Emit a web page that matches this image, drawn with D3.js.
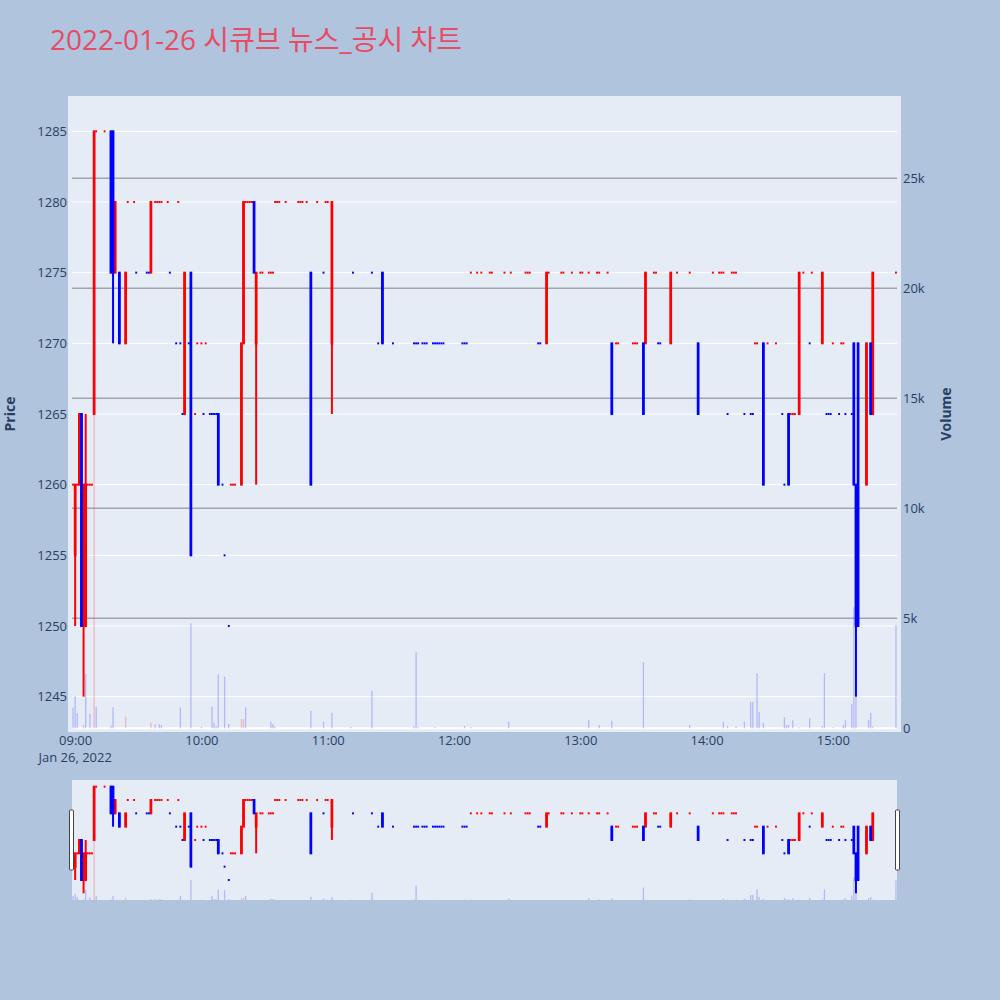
<!DOCTYPE html>
<html><head><meta charset="utf-8">
<script src="https://cdn.jsdelivr.net/npm/d3@7/dist/d3.min.js"></script>
<style>
html,body{margin:0;padding:0;background:#b0c4de;}
svg{display:block;font-family:"Open Sans","Noto Sans CJK KR",sans-serif;}
</style></head>
<body><div id="chart"></div>
<script>
// ---------------- data ----------------
const titleText = "2022-01-26 시큐브 뉴스_공시 차트";
const tradeDate = "2022-01-26";
const priceTicks = [1245, 1250, 1255, 1260, 1265, 1270, 1275, 1280, 1285];
const volumeTicks = [0, 5000, 10000, 15000, 20000, 25000];
const volumeTickLabels = ["0", "5k", "10k", "15k", "20k", "25k"];
const timeTicks = ["09:00", "10:00", "11:00", "12:00", "13:00", "14:00", "15:00"];

// candles with a real body or wick
const barTimes = ["09:00","09:02","09:03","09:04","09:05","09:09","09:17","09:18","09:19","09:21","09:24","09:36","09:52","09:55",
  "10:08","10:19","10:20","10:25","10:26","10:52","11:02","11:26","12:44","13:15","13:30","13:31","13:43","13:56",
  "14:27","14:39","14:44","14:55","15:10","15:11","15:12","15:16","15:18","15:19"];
const barOpen  = [1255,1260,1265,1250,1250,1265,1285,1285,1275,1275,1270,1275,1265,1275,
  1265,1260,1270,1280,1270,1275,1270,1275,1270,1270,1270,1270,1270,1270,
  1270,1265,1265,1270,1270,1260,1270,1260,1270,1265];
const barHigh  = [1260,1265,1265,1260,1265,1285,1285,1285,1280,1275,1275,1280,1275,1275,
  1265,1270,1280,1280,1275,1275,1280,1275,1275,1270,1270,1275,1275,1270,
  1270,1265,1275,1275,1270,1260,1270,1270,1270,1275];
const barLow   = [1250,1260,1250,1245,1250,1265,1275,1270,1275,1270,1270,1275,1265,1255,
  1260,1260,1270,1275,1260,1260,1265,1270,1270,1265,1265,1270,1270,1265,
  1260,1260,1265,1270,1260,1245,1250,1260,1265,1265];
const barClose = [1260,1265,1250,1260,1260,1285,1275,1275,1280,1270,1275,1280,1275,1255,
  1260,1270,1280,1275,1275,1260,1280,1270,1275,1265,1265,1275,1275,1265,
  1260,1260,1275,1275,1260,1250,1250,1270,1265,1275];

// single-price minutes (open = high = low = close)
const dojiTimes = ["08:59","09:01","09:06","09:07","09:08","09:10","09:14","09:25","09:28","09:29","09:34","09:35",
  "09:38","09:39","09:40","09:41","09:44","09:45","09:48","09:49","09:50","09:51","09:54","09:57","09:58",
  "10:00","10:01","10:02","10:04","10:05","10:06","10:07","10:10","10:11","10:13","10:14","10:15","10:16",
  "10:21","10:22","10:23","10:24","10:28","10:29","10:32","10:33","10:34","10:35","10:36","10:37","10:40",
  "10:46","10:47","10:48","10:50","10:55","10:58","10:59","11:00","11:12","11:21","11:24","11:31",
  "11:41","11:42","11:43","11:45","11:46","11:47","11:50","11:51","11:52","11:53","11:54","11:55",
  "12:04","12:05","12:06","12:08","12:11","12:13","12:17","12:18","12:24","12:27","12:34","12:35","12:36",
  "12:40","12:41","12:45","12:51","12:52","12:56","13:00","13:01","13:04","13:08","13:09","13:13",
  "13:17","13:18","13:25","13:26","13:27","13:35","13:36","13:37","13:38","13:46","13:52",
  "14:03","14:06","14:07","14:08","14:10","14:12","14:13","14:14","14:18","14:21","14:22","14:23","14:24",
  "14:29","14:33","14:36","14:37","14:40","14:41","14:42","14:46","14:49","14:50","14:57","14:58","14:59",
  "15:00","15:03","15:04","15:05","15:06","15:09","15:30"];
const dojiPrice = [1260,1260,1260,1260,1260,1285,1285,1280,1280,1275,1275,1275,
  1280,1280,1280,1280,1280,1275,1270,1280,1270,1265,1270,1265,1270,
  1270,1265,1270,1265,1265,1265,1265,1260,1255,1250,1260,1260,1260,
  1280,1280,1280,1280,1275,1275,1275,1275,1275,1280,1280,1280,1280,
  1280,1280,1280,1280,1280,1275,1280,1280,1275,1275,1270,1270,
  1270,1270,1270,1270,1270,1270,1270,1270,1270,1270,1270,1270,
  1270,1270,1270,1275,1275,1275,1275,1275,1275,1275,1275,1275,1275,
  1270,1270,1275,1275,1275,1275,1275,1275,1275,1275,1275,1275,
  1270,1270,1270,1270,1270,1275,1275,1270,1270,1275,1275,
  1275,1275,1275,1275,1265,1275,1275,1275,1265,1265,1265,1270,1270,
  1270,1270,1265,1260,1265,1265,1265,1275,1270,1275,1265,1265,1265,
  1270,1265,1270,1270,1265,1265,1275];

// volume per minute, and whether the bar is drawn in the "up" colour
const volTimes = ["08:59","09:00","09:01","09:04","09:05","09:07","09:09","09:10","09:17","09:18","09:24","09:36",
  "09:38","09:40","09:41","09:50","09:55","10:00","10:05","10:06","10:07","10:08","10:11","10:13","10:19","10:20",
  "10:21","10:33","10:34","10:35","10:52","10:58","11:02","11:11","11:21","11:41","11:42","11:43","11:51",
  "12:05","12:08","12:26","13:04","13:09","13:15","13:30","13:52","14:08","14:10","14:14","14:18","14:21",
  "14:22","14:24","14:25","14:27","14:37","14:38","14:39","14:41","14:44","14:49","14:55","14:56","15:00",
  "15:05","15:06","15:09","15:10","15:11","15:17","15:18","15:19","15:30"];
const volValues = [940,1470,680,150,2470,650,14300,980,120,950,530,270,
  180,180,150,950,4770,80,980,250,100,2450,2350,200,420,420,
  950,300,200,100,800,300,710,80,1700,100,3450,50,50,
  100,50,300,380,150,350,3000,150,300,100,80,300,1200,
  1200,2500,750,250,500,150,150,380,50,450,100,2500,50,
  150,380,1100,5500,1500,380,700,100,4700];
const volUp = [0,0,0,1,0,0,1,0,0,0,1,1,
  0,0,0,0,0,0,0,0,0,0,0,0,1,1,
  0,0,0,1,0,0,0,0,0,0,0,0,0,
  0,0,0,0,0,0,0,0,0,0,0,0,0,
  0,0,0,0,0,0,0,0,1,0,0,0,1,
  0,0,0,0,0,0,0,1,0];

// ---------------- build ----------------
const parseT = d3.timeParse("%Y-%m-%d %H:%M");
const T = s => parseT(tradeDate + " " + s);

let candles = barTimes.map((t, i) => ({t: T(t), o: barOpen[i], h: barHigh[i], l: barLow[i], c: barClose[i]}))
  .concat(dojiTimes.map((t, i) => ({t: T(t), o: dojiPrice[i], h: dojiPrice[i], l: dojiPrice[i], c: dojiPrice[i]})));
candles.sort((a, b) => a.t - b.t);
// direction as in plotly: equal open/close compares to previous close, else keeps previous direction
let inc = true, cPrev = null;
candles.forEach(d => {
  if (d.c === d.o) { if (cPrev !== null && d.c !== cPrev) inc = d.c > cPrev; }
  else inc = d.c > d.o;
  d.up = inc; cPrev = d.c;
});
const vols = volTimes.map((t, i) => ({t: T(t), v: volValues[i], up: volUp[i] === 1}));

const W = 1000, H = 1000;
const svg = d3.select("#chart").append("svg").attr("width", W).attr("height", H);
svg.append("rect").attr("width", W).attr("height", H).attr("fill", "#b0c4de");

const xL = 72, xR = 897, yTop = 96, yBot = 732;
const x = d3.scaleTime()
  .domain([d3.timeSecond.offset(T("08:58"), 30), d3.timeSecond.offset(T("15:30"), 30)])
  .range([xL, xR]);
const y = d3.scaleLinear().domain([1242.5, 1287.5]).range([yBot, yTop]);
const yv = d3.scaleLinear().domain([0, 28740]).range([728.3, yTop]);

const UP = "#ff0000", DOWN = "#0000ff";
const TXT = "#2a3f5f";

// title
svg.append("text").attr("x", 50).attr("y", 50).attr("font-size", 28).attr("fill", "#e84c64")
  .text(titleText);

// plot background
svg.append("rect").attr("x", 68).attr("y", yTop).attr("width", 901 - 68).attr("height", yBot - yTop).attr("fill", "#e5ecf6");

// grids
const grid = svg.append("g");
grid.selectAll(".pg").data(priceTicks).join("line")
  .attr("x1", xL).attr("x2", xR).attr("y1", d => y(d)).attr("y2", d => y(d))
  .attr("stroke", "#ffffff").attr("stroke-width", 1);
grid.selectAll(".vg").data(volumeTicks.filter(v => v > 0)).join("line")
  .attr("x1", xL).attr("x2", xR).attr("y1", d => yv(d)).attr("y2", d => yv(d))
  .attr("stroke", "#a1a5aa").attr("stroke-width", 1.6);
grid.append("line").attr("x1", xL).attr("x2", xR).attr("y1", yv(0)).attr("y2", yv(0))
  .attr("stroke", "#ffffff").attr("stroke-width", 2);

function drawCandles(g, xs, ys) {
  [true, false].forEach(dir => {
    const col = dir ? UP : DOWN;
    const data = candles.filter(d => d.up === dir);
    const gg = g.append("g");
    gg.selectAll("line").data(data.filter(d => d.h > d.l)).join("line")
      .attr("x1", d => xs(d.t)).attr("x2", d => xs(d.t))
      .attr("y1", d => ys(d.h)).attr("y2", d => ys(d.l))
      .attr("stroke", col).attr("stroke-width", 2);
    gg.selectAll("rect").data(data).join("rect")
      .attr("x", d => xs(d.t) - (d.o === d.c ? 0.95 : 1.35))
      .attr("y", d => Math.min(ys(d.o), ys(d.c)) - 1)
      .attr("width", d => d.o === d.c ? 1.9 : 2.7)
      .attr("height", d => Math.abs(ys(d.o) - ys(d.c)) + 2)
      .attr("fill", col);
  });
}
function drawVolumes(g, xs, ys) {
  g.selectAll("rect").data(vols).join("rect")
    .attr("x", d => xs(d.t) - 0.65).attr("width", 1.3)
    .attr("y", d => ys(d.v)).attr("height", d => ys(0) - ys(d.v))
    .attr("fill", d => d.up ? "rgba(255,0,0,0.22)" : "rgba(0,0,255,0.22)");
}

svg.append("clipPath").attr("id", "clipMain").append("rect")
  .attr("x", xL).attr("y", yTop).attr("width", xR - xL).attr("height", yBot - yTop);
const plot = svg.append("g").attr("clip-path", "url(#clipMain)");
drawCandles(plot.append("g"), x, y);
drawVolumes(plot.append("g"), x, yv);

// axes
const axX = svg.append("g").attr("transform", `translate(0,${yBot})`)
  .call(d3.axisBottom(x).tickValues(timeTicks.map(T)).tickFormat(d3.timeFormat("%H:%M")).tickSize(0).tickPadding(4));
axX.select(".domain").remove();
axX.selectAll("text").attr("font-size", 13).attr("fill", TXT).attr("font-family", "Open Sans");
svg.append("text").attr("x", x(T(timeTicks[0]))).attr("y", 762).attr("text-anchor", "middle")
  .attr("font-size", 13).attr("fill", TXT).text("Jan 26, 2022");

const axY = svg.append("g").attr("transform", `translate(${xL},0)`)
  .call(d3.axisLeft(y).tickValues(priceTicks).tickFormat(d3.format("d")).tickSize(0).tickPadding(5));
axY.select(".domain").remove();
axY.selectAll("text").attr("font-size", 13).attr("fill", TXT).attr("font-family", "Open Sans");

const axV = svg.append("g").attr("transform", `translate(${xR},0)`)
  .call(d3.axisRight(yv).tickValues(volumeTicks).tickFormat((d, i) => volumeTickLabels[i]).tickSize(0).tickPadding(6));
axV.select(".domain").remove();
axV.selectAll("text").attr("font-size", 13).attr("fill", TXT).attr("font-family", "Open Sans");

svg.append("text").attr("transform", "translate(15,414) rotate(-90)").attr("text-anchor", "middle")
  .attr("font-size", 14).attr("font-weight", "bold").attr("fill", TXT).text("Price");
svg.append("text").attr("transform", "translate(951,414) rotate(-90)").attr("text-anchor", "middle")
  .attr("font-size", 14).attr("font-weight", "bold").attr("fill", TXT).text("Volume");

// range slider
const sTop = 780, sBot = 900;
svg.append("rect").attr("x", xL).attr("y", sTop).attr("width", xR - xL).attr("height", sBot - sTop).attr("fill", "#e5ecf6");
const ys = d3.scaleLinear().domain(y.domain()).range([sBot, sTop]);
const yvs = d3.scaleLinear().domain(yv.domain()).range([sBot, sTop]);
svg.append("clipPath").attr("id", "clipSlider").append("rect")
  .attr("x", xL).attr("y", sTop).attr("width", xR - xL).attr("height", sBot - sTop);
const sg = svg.append("g").attr("clip-path", "url(#clipSlider)");
drawCandles(sg.append("g"), x, ys);
drawVolumes(sg.append("g"), x, yvs);
[xL - 2.5, xR - 1.5].forEach(hx => {
  svg.append("rect").attr("x", hx).attr("y", 810).attr("width", 4).attr("height", 60)
    .attr("rx", 1).attr("fill", "#ffffff").attr("stroke", "#444").attr("stroke-width", 1);
});
</script>
</body></html>
